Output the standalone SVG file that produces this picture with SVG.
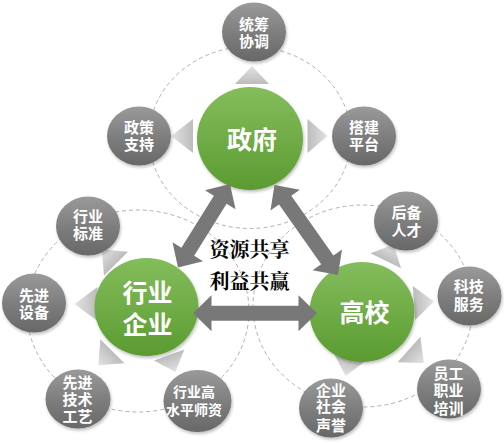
<svg xmlns="http://www.w3.org/2000/svg" xmlns:xlink="http://www.w3.org/1999/xlink" width="504" height="443" viewBox="0 0 504 443">
  <defs>
    <linearGradient id="gGreen" x1="0" y1="0" x2="0" y2="1">
      <stop offset="0" stop-color="#84bd5c"/>
      <stop offset="1" stop-color="#5b9b31"/>
    </linearGradient>
    <linearGradient id="gGray" x1="0" y1="0" x2="0" y2="1">
      <stop offset="0" stop-color="#9a9a9a"/>
      <stop offset="0.55" stop-color="#7c7c7c"/>
      <stop offset="1" stop-color="#686868"/>
    </linearGradient>
    <linearGradient id="gTri" x1="0" y1="0" x2="1" y2="0">
      <stop offset="0" stop-color="#bcbcbc"/>
      <stop offset="1" stop-color="#e3e3e3"/>
    </linearGradient>
    <filter id="shadow" x="-20%" y="-20%" width="150%" height="150%">
      <feDropShadow dx="1" dy="2" stdDeviation="1.5" flood-color="#000" flood-opacity="0.25"/>
    </filter>
    <polygon id="tri" points="0,-17 0,17 20,0" fill="url(#gTri)"/>
  </defs>
  <style>
    .ring { fill: none; stroke: #b0b0b0; stroke-width: 1; stroke-dasharray: 4 3; }
    .gray { fill: url(#gGray); filter: url(#shadow); }
    .green { fill: url(#gGreen); filter: url(#shadow); }
    .gt { font-family: "Noto Sans CJK SC", "Noto Sans", sans-serif; font-weight: bold; font-size: 15px; fill: #ffffff; text-anchor: middle; }
    .bt { font-family: "Noto Sans CJK SC", "Noto Sans", sans-serif; font-weight: bold; font-size: 25px; fill: #ffffff; text-anchor: middle; }
    .arrow { fill: #787878; }
    .ct { font-family: "Noto Serif CJK SC", "Noto Sans CJK SC", serif; font-weight: bold; font-size: 20px; fill: #000000; text-anchor: middle; }
  </style>

  <g id="rings">
    <ellipse class="ring" cx="250" cy="137.5" rx="101" ry="91"/>
    <ellipse class="ring" cx="138" cy="311" rx="111" ry="101"/>
    <ellipse class="ring" cx="363" cy="306" rx="110" ry="101"/>
  </g>

  <g id="pointers">
    <use xlink:href="#tri" href="#tri" transform="translate(252,84) rotate(-90) scale(0.9,1)"/>
    <use xlink:href="#tri" href="#tri" transform="translate(193,136) rotate(180) scale(1.1,1)"/>
    <use xlink:href="#tri" href="#tri" transform="translate(307.5,136) rotate(0)"/>
    <use xlink:href="#tri" href="#tri" transform="translate(116,263.7) rotate(-135)"/>
    <use xlink:href="#tri" href="#tri" transform="translate(97.5,304) rotate(180) scale(1.15,1)"/>
    <use xlink:href="#tri" href="#tri" transform="translate(112.4,351.2) rotate(135)"/>
    <use xlink:href="#tri" href="#tri" transform="translate(169.2,355) rotate(70) scale(0.9,0.95)"/>
    <use xlink:href="#tri" href="#tri" transform="translate(385.8,260.8) rotate(-64) scale(0.9,1)"/>
    <use xlink:href="#tri" href="#tri" transform="translate(414,303) rotate(-4)"/>
    <use xlink:href="#tri" href="#tri" transform="translate(409,349.5) rotate(42)"/>
    <use xlink:href="#tri" href="#tri" transform="translate(350,356.5) rotate(103)"/>
  </g>

  <g id="node-tongchou">
    <ellipse class="gray" cx="254" cy="32" rx="32" ry="29.5"/>
    <text class="gt"><tspan x="254" y="30">统筹</tspan><tspan x="254" y="46.7">协调</tspan></text>
  </g>
  <g id="node-zhengce">
    <ellipse class="gray" cx="139" cy="136" rx="32" ry="29.5"/>
    <text class="gt"><tspan x="139" y="133.4">政策</tspan><tspan x="139" y="150">支持</tspan></text>
  </g>
  <g id="node-dajian">
    <ellipse class="gray" cx="364" cy="136" rx="32" ry="29.5"/>
    <text class="gt"><tspan x="364" y="133.4">搭建</tspan><tspan x="364" y="150">平台</tspan></text>
  </g>
  <g id="node-biaozhun">
    <ellipse class="gray" cx="88" cy="226" rx="32" ry="29.5"/>
    <text class="gt"><tspan x="88" y="222.4">行业</tspan><tspan x="88" y="239.2">标准</tspan></text>
  </g>
  <g id="node-shebei">
    <ellipse class="gray" cx="34" cy="303" rx="32" ry="29.5"/>
    <text class="gt"><tspan x="34" y="300.7">先进</tspan><tspan x="34" y="317.5">设备</tspan></text>
  </g>
  <g id="node-gongyi">
    <ellipse class="gray" cx="78" cy="399" rx="32.5" ry="29.5"/>
    <text class="gt"><tspan x="77.5" y="387.7">先进</tspan><tspan x="77.5" y="404.7">技术</tspan><tspan x="77.5" y="421.7">工艺</tspan></text>
  </g>
  <g id="node-shizi">
    <ellipse class="gray" cx="197.5" cy="401" rx="34" ry="31"/>
    <text class="gt" style="font-size:14px"><tspan x="194" y="396.8">行业高</tspan><tspan x="194" y="415.3">水平师资</tspan></text>
  </g>
  <g id="node-houbei">
    <ellipse class="gray" cx="406" cy="221" rx="32" ry="29.5"/>
    <text class="gt"><tspan x="406.5" y="218.4">后备</tspan><tspan x="406.5" y="235.7">人才</tspan></text>
  </g>
  <g id="node-keji">
    <ellipse class="gray" cx="469.5" cy="296" rx="32" ry="29.5"/>
    <text class="gt"><tspan x="468.7" y="292.3">科技</tspan><tspan x="468.7" y="309.7">服务</tspan></text>
  </g>
  <g id="node-yuangong">
    <ellipse class="gray" cx="449" cy="389" rx="32" ry="29.5"/>
    <text class="gt"><tspan x="448.6" y="378.7">员工</tspan><tspan x="448.6" y="395.7">职业</tspan><tspan x="448.6" y="413.7">培训</tspan></text>
  </g>
  <g id="node-shengyu">
    <ellipse class="gray" cx="331" cy="408" rx="32" ry="29.5"/>
    <text class="gt"><tspan x="331" y="395.7">企业</tspan><tspan x="331" y="412.3">社会</tspan><tspan x="331" y="430.7">声誉</tspan></text>
  </g>

  <g id="node-zhengfu">
    <ellipse class="green" cx="250" cy="138.5" rx="53" ry="51.5"/>
    <text class="bt" x="252" y="149">政府</text>
  </g>
  <g id="node-qiye">
    <ellipse class="green" cx="146.5" cy="307" rx="52" ry="49"/>
    <text class="bt"><tspan x="147.5" y="301.5">行业</tspan><tspan x="147.5" y="333.5">企业</tspan></text>
  </g>
  <g id="node-gaoxiao">
    <ellipse class="green" cx="362" cy="312" rx="52.5" ry="50"/>
    <text class="bt" x="364.5" y="322">高校</text>
  </g>

  <g id="connectors">
    <polygon class="arrow" transform="translate(193,313.3)" points="0,0 18.5,-18 18.5,-7.5 105.5,-7.5 105.5,-18 124,0 105.5,18 105.5,7.5 18.5,7.5 18.5,18"/>
    <polygon class="arrow" transform="translate(178,267.5) rotate(-58.1)" points="0,0 18.5,-18 18.5,-7.5 79.9,-7.5 79.9,-18 98.4,0 79.9,18 79.9,7.5 18.5,7.5 18.5,18"/>
    <polygon class="arrow" transform="translate(274.5,185) rotate(54.8)" points="0,0 18.5,-18 18.5,-7.5 91.6,-7.5 91.6,-18 110.1,0 91.6,18 91.6,7.5 18.5,7.5 18.5,18"/>
  </g>

  <g id="center-label">
    <text class="ct"><tspan x="249.5" y="257">资源共享</tspan><tspan x="249.5" y="289">利益共赢</tspan></text>
  </g>
</svg>
